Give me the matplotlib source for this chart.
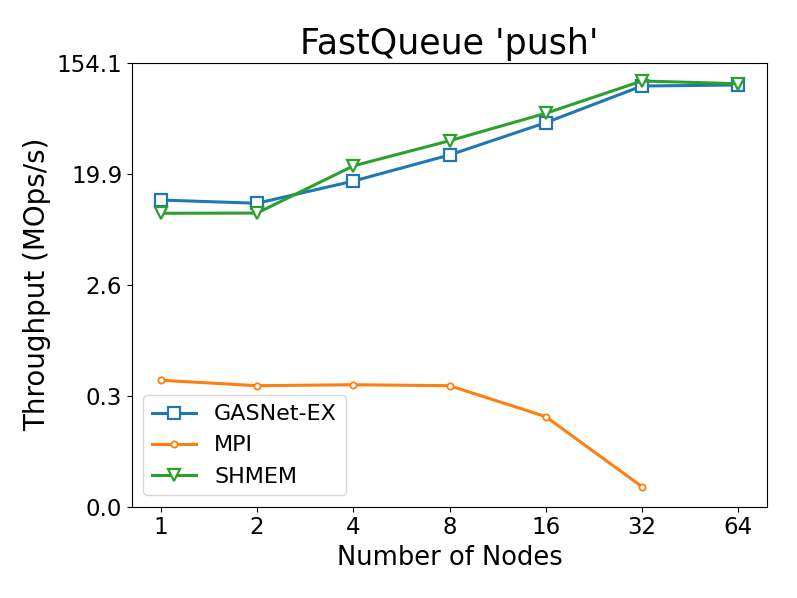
import matplotlib
matplotlib.use("Agg")
import matplotlib.pyplot as plt
import numpy as np

nodes = ["1", "2", "4", "8", "16", "32", "64"]
gasnet = [12.2, 11.5, 17.3, 28.0, 50.8, 99.9, 101.8]
mpi = [0.440, 0.398, 0.405, 0.398, 0.225, 0.0619]
shmem = [9.56, 9.6, 22.9, 36.4, 60.4, 109.6, 104.2]
ymin, ymax = 0.0429, 154.1

fig = plt.figure(figsize=(7.97, 5.98), dpi=100)
ax = fig.add_axes([132/797, 1-506.5/598, (767-132)/797, (506.5-62.5)/598])

x = np.arange(len(nodes))
ax.plot(x, gasnet, color="#1f77b4", lw=2.2, marker="s", ms=9, mfc="white", mew=1.6, label="GASNet-EX")
ax.plot(x[:len(mpi)], mpi, color="#ff7f0e", lw=2.2, marker="o", ms=4.5, mfc="white", mew=1.3, label="MPI")
ax.plot(x, shmem, color="#2ca02c", lw=2.2, marker="v", ms=9, mfc="white", mew=1.6, label="SHMEM")

ax.set_yscale("log")
ax.set_ylim(ymin, ymax)
yt = np.logspace(np.log10(ymin), np.log10(ymax), 5)
ax.set_yticks(yt)
ax.set_yticklabels(["%.1f" % v for v in yt])
ax.minorticks_off()
ax.set_xticks(x)
ax.set_xticklabels(nodes)
ax.tick_params(labelsize=16.5)
ax.set_xlabel("Number of Nodes", fontsize=18.5)
ax.set_ylabel("Throughput (MOps/s)", fontsize=20)
ax.set_title("FastQueue 'push'", fontsize=25)
ax.legend(loc="lower left", fontsize=16)

fig.savefig("out.png", dpi=100)
